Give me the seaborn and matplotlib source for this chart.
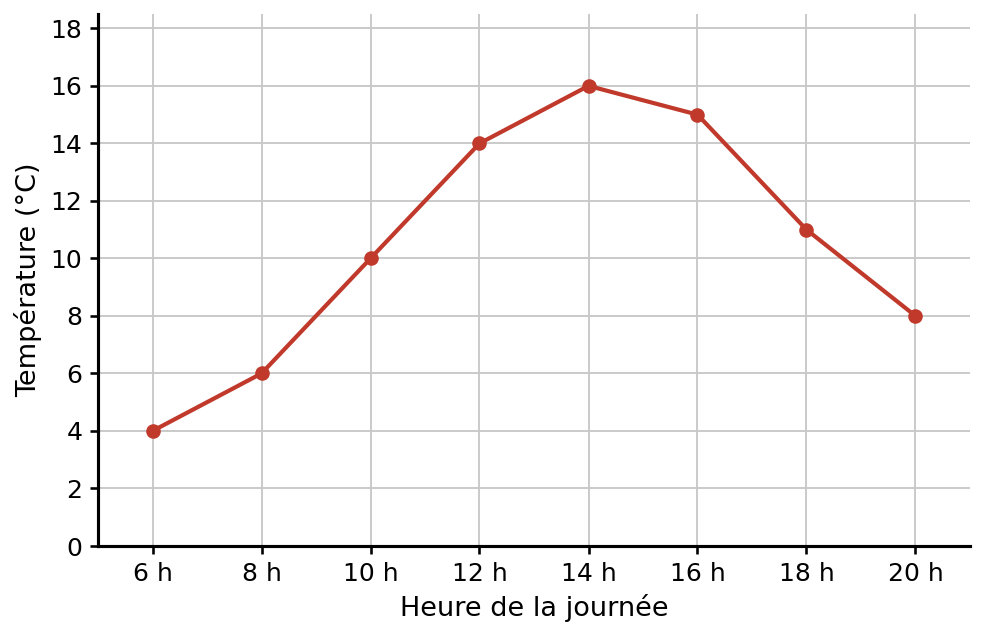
import pandas as pd
import matplotlib.pyplot as plt
import seaborn as sns

# Données
heures = ["6 h", "8 h", "10 h", "12 h", "14 h", "16 h", "18 h", "20 h"]
temperatures = [4, 6, 10, 14, 16, 15, 11, 8]

df = pd.DataFrame({"Heure": heures, "Temperature": temperatures})

sns.set_theme(style="whitegrid")
plt.rcParams['font.family'] = ['DejaVu Sans']
plt.rcParams['text.color'] = 'black'
plt.rcParams['axes.labelcolor'] = 'black'
plt.rcParams['xtick.color'] = 'black'
plt.rcParams['ytick.color'] = 'black'

fig, ax = plt.subplots(figsize=(985 / 150, 637 / 150), dpi=150)
fig.subplots_adjust(left=98 / 985, right=970 / 985, top=1 - 14 / 637, bottom=1 - 546 / 637)

sns.lineplot(
    data=df,
    x="Heure",
    y="Temperature",
    color="#c0392b",
    linewidth=2,
    marker="o",
    markersize=7,
    markeredgewidth=0,
    sort=False,
    ax=ax
)

ax.set_xlim(-0.5, len(heures) - 0.5)
ax.set_ylim(0, 18.5)
ax.set_yticks(range(0, 19, 2))

ax.set_xlabel("Heure de la journée", fontsize=13)
ax.set_ylabel("Température (°C)", fontsize=13)
ax.tick_params(axis="both", labelsize=12, length=4, color="black", left=True, bottom=True)

ax.grid(True, color="#c8c8c8", linewidth=0.9)
ax.set_facecolor("white")
for side in ["top", "right"]:
    ax.spines[side].set_visible(False)
for side in ["left", "bottom"]:
    ax.spines[side].set_color("black")
    ax.spines[side].set_linewidth(1.5)

plt.savefig("out.png", dpi=150)
